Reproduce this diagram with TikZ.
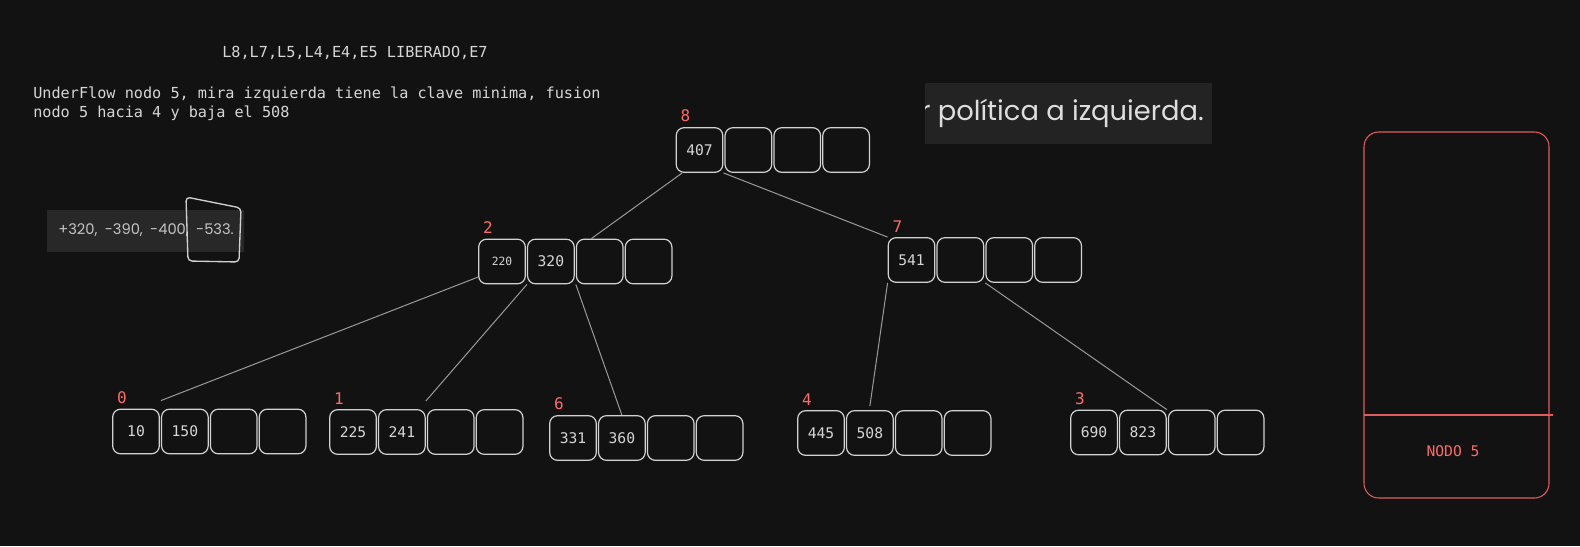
\documentclass[tikz,border=0pt]{standalone}
\usepackage{fontspec}
\usetikzlibrary{positioning}
\newfontfamily\monofont{DejaVu Sans Mono}
\newfontfamily\shotfont{Poppins}
\definecolor{bgdark}{HTML}{121212}
\definecolor{keygray}{HTML}{D2D2D2}
\definecolor{keytext}{HTML}{D6D6D6}
\definecolor{linkgray}{HTML}{9A9A9A}
\definecolor{idxred}{HTML}{FF6B6B}
\definecolor{panelred}{HTML}{E05C5C}
\definecolor{shotleft}{HTML}{282828}
\definecolor{shotright}{HTML}{232323}
\definecolor{shottext}{HTML}{C4C4C4}
\definecolor{shotbright}{HTML}{DEDEDE}

\begin{document}
\begin{tikzpicture}[
  x=0.75pt, y=-0.75pt,
  key/.style={rectangle, draw=keygray, line width=0.9pt, rounded corners=6pt, minimum width=35pt, minimum height=33.5pt, inner sep=0pt, text=keytext, font=\monofont\fontsize{11pt}{13pt}\selectfont},
  idx/.style={anchor=south west, inner sep=0pt, text=idxred, font=\monofont\fontsize{12pt}{14pt}\selectfont},
  link/.style={draw=linkgray, line width=0.75pt},
  note/.style={inner sep=0pt, text=keytext, font=\monofont\fontsize{11.4pt}{14.3pt}\selectfont, align=left}
]
  % background and frame
  \fill[bgdark] (0,0) rectangle (1580,546);
  \useasboundingbox (0,0) rectangle (1580,546);

  % notes
  \node[note, anchor=west] (steps) at (222,53) {L8,L7,L5,L4,E4,E5 LIBERADO,E7};
  \node[note, anchor=north west] (under) at (33,87) {UnderFlow nodo 5, mira izquierda tiene la clave minima, fusion\\nodo 5 hacia 4 y baja el 508};

  % pasted screenshots
  \fill[shotleft] (47,210) rectangle (244,252);
  \node[inner sep=0pt, anchor=west, text=shottext, font=\shotfont\fontsize{11pt}{13pt}\selectfont] (keys) at (58,230) {+320,\enspace -390,\enspace -400,\enspace -533.};
  \draw[keygray, line width=1pt, rounded corners=3pt] (186,197) -- (241,208) -- (239,262) -- (188,261) -- cycle;
  \begin{scope}
    \clip (925,83) rectangle (1212,144);
    \fill[shotright] (922,83) rectangle (1212,144);
    \node[inner sep=0pt, anchor=east, text=shotbright, font=\shotfont\fontsize{20.5pt}{24pt}\selectfont] (policy) at (1204,113) {r política a izquierda.};
  \end{scope}

  % node 8
  \node[key] (n8a) at (699.5,150) {407};
  \node[key, right=0.75pt of n8a] (n8b) {};
  \node[key, right=0.75pt of n8b] (n8c) {};
  \node[key, right=0.75pt of n8c] (n8d) {};
  \node[idx] (l8) at ([xshift=3.5pt, yshift=3.5pt]n8a.north west) {8};

  % node 2
  \node[key] (n2a) at (502,261.5) {\fontsize{8.5pt}{10pt}\selectfont 220};
  \node[key, right=0.75pt of n2a] (n2b) {320};
  \node[key, right=0.75pt of n2b] (n2c) {};
  \node[key, right=0.75pt of n2c] (n2d) {};
  \node[idx] (l2) at ([xshift=3.5pt, yshift=3.5pt]n2a.north west) {2};

  % node 7
  \node[key] (n7a) at (911.5,260) {541};
  \node[key, right=0.75pt of n7a] (n7b) {};
  \node[key, right=0.75pt of n7b] (n7c) {};
  \node[key, right=0.75pt of n7c] (n7d) {};
  \node[idx] (l7) at ([xshift=3.5pt, yshift=3.5pt]n7a.north west) {7};

  % node 0
  \node[key] (n0a) at (136,431.5) {10};
  \node[key, right=0.75pt of n0a] (n0b) {150};
  \node[key, right=0.75pt of n0b] (n0c) {};
  \node[key, right=0.75pt of n0c] (n0d) {};
  \node[idx] (l0) at ([xshift=3.5pt, yshift=3.5pt]n0a.north west) {0};

  % node 1
  \node[key] (n1a) at (353,432) {225};
  \node[key, right=0.75pt of n1a] (n1b) {241};
  \node[key, right=0.75pt of n1b] (n1c) {};
  \node[key, right=0.75pt of n1c] (n1d) {};
  \node[idx] (l1) at ([xshift=3.5pt, yshift=3.5pt]n1a.north west) {1};

  % node 6
  \node[key] (n6a) at (573,438) {331};
  \node[key, right=0.75pt of n6a] (n6b) {360};
  \node[key, right=0.75pt of n6b] (n6c) {};
  \node[key, right=0.75pt of n6c] (n6d) {};
  \node[idx] (l6) at ([xshift=3.5pt, yshift=3.5pt]n6a.north west) {6};

  % node 4
  \node[key] (n4a) at (821,433) {445};
  \node[key, right=0.75pt of n4a] (n4b) {508};
  \node[key, right=0.75pt of n4b] (n4c) {};
  \node[key, right=0.75pt of n4c] (n4d) {};
  \node[idx] (l4) at ([xshift=3.5pt, yshift=3.5pt]n4a.north west) {4};

  % node 3
  \node[key] (n3a) at (1094,432.5) {690};
  \node[key, right=0.75pt of n3a] (n3b) {823};
  \node[key, right=0.75pt of n3b] (n3c) {};
  \node[key, right=0.75pt of n3c] (n3d) {};
  \node[idx] (l3) at ([xshift=3.5pt, yshift=3.5pt]n3a.north west) {3};

  % links
  \draw[link] (n8a.233) -- (n2c.110);
  \draw[link] (n8a.south east) -- (n7a.north west);
  \draw[link] (n2a.213) -- ([yshift=6pt]n0b.north west);
  \draw[link] (n2b.south west) -- ([yshift=6pt]n1b.north east);
  \draw[link] (n2c.south west) -- (n6b.north);
  \draw[link] (n7a.south west) -- ([yshift=3pt]n4b.north);
  \draw[link] (n7c.south west) -- (n3b.north east);

  % freed node 5
  \draw[panelred, line width=0.8pt, rounded corners=11pt] (1364,132) rectangle (1549,498);
  \draw[panelred, line width=0.8pt] (1364,415) -- (1553,415);
  \node[inner sep=0pt, text=idxred, font=\monofont\fontsize{11pt}{13pt}\selectfont] (nodo5) at (1453,451) {NODO 5};
\end{tikzpicture}
\end{document}
